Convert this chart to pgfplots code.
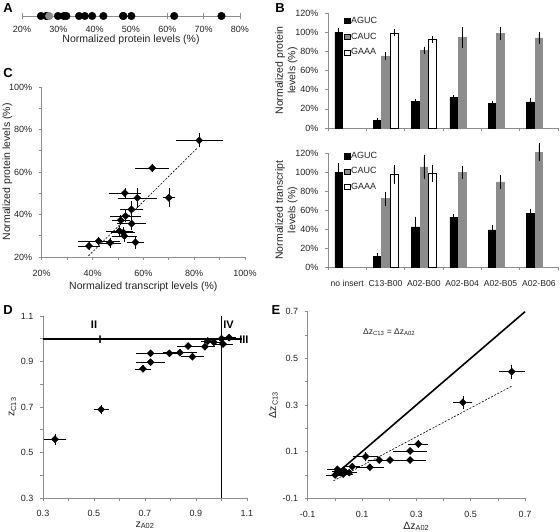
\documentclass[border=0pt]{standalone}
\usepackage{pgfplots}
\pgfplotsset{compat=1.18}
\usepackage{fontspec}
\setmainfont{Liberation Sans}
\definecolor{axgray}{HTML}{8C8C8C}
\definecolor{bargray}{HTML}{8C8C8C}
\definecolor{txt}{HTML}{222222}

\pgfplotsset{
  base/.style={scale only axis, anchor=south west, clip=false,
    axis x line*=bottom, axis y line*=left,
    axis line style={-,draw=axgray,line width=0.6pt},
    tick style={draw=axgray,line width=0.6pt},
    tick align=outside, major tick length=3pt, minor tick length=3pt,
    tick label style={font=\fontsize{9}{10}\selectfont, text=txt},
    xticklabel style={yshift=-7pt}, yticklabel style={xshift=-3pt},
    label style={font=\fontsize{10.5}{12.5}\selectfont, text=txt},
    /pgf/number format/assume math mode=true},
  pts/.style={only marks, mark=square*, mark size=2.5pt, black,
    mark options={rotate=45},
    error bars/x dir=both, error bars/x explicit, error bars/y dir=both, error bars/y explicit,
    error bars/error bar style={black, line width=0.5pt},
    error bars/error mark options={black, mark size=2pt, line width=0.5pt}},
  bars/.style={ybar, bar width=0.2, bar shift=0pt, line width=0.5pt,
    legend image code/.code={\draw[##1,draw=black,line width=0.5pt] (0pt,-2.6pt) rectangle (5.2pt,2.6pt);},
    error bars/y dir=both, error bars/y explicit,
    error bars/error bar style={black, line width=0.5pt},
    error bars/error mark options={black, mark size=2pt, line width=0.5pt}},
}

\begin{document}
\begin{tikzpicture}
\useasboundingbox (0pt,0pt) rectangle (560pt,532pt);

% panel letters
\node[font=\bfseries\fontsize{13}{13}\selectfont] at (8pt,524pt) {A};
\node[font=\bfseries\fontsize{13}{13}\selectfont] at (280pt,524pt) {B};
\node[font=\bfseries\fontsize{13}{13}\selectfont] at (8pt,459pt) {C};
\node[font=\bfseries\fontsize{13}{13}\selectfont] at (8pt,222pt) {D};
\node[font=\bfseries\fontsize{13}{13}\selectfont] at (276pt,222pt) {E};

% ---------------- Panel A
\begin{axis}[scale only axis, anchor=south west, at={(22pt,506pt)},
  width=218pt, height=20pt, xmin=20, xmax=80, ymin=-1, ymax=1, clip=false,
  axis x line=middle, axis y line=none,
  axis line style={-,draw=axgray,line width=0.8pt},
  xtick={20,30,...,80}, xticklabel={\pgfmathprintnumber{\tick}\%},
  tick align=center, major tick length=6pt, tick style={draw=axgray,line width=0.6pt},
  tick label style={font=\fontsize{9}{10}\selectfont, text=txt},
  xticklabel style={yshift=-4pt},
  /pgf/number format/assume math mode=true]
\addplot[only marks, mark=*, mark size=3.8pt, black] coordinates {
 (25.2,0) (26.7,0) (26.9,0) (29.9,0) (31.5,0) (32.2,0) (35.7,0) (37.3,0)
 (39.3,0) (42.4,0) (47.8,0) (47.9,0) (50.1,0) (61.9,0) (74.9,0)};
\addplot[only marks, mark=*, mark size=3.8pt, draw=bargray, fill=bargray] coordinates {(27.5,0)};
\end{axis}
\node[font=\fontsize{10.5}{12}\selectfont, text=txt] at (131pt,492pt) {Normalized protein levels (\%)};

% ---------------- Panel B top
\begin{axis}[base, at={(328pt,404pt)}, width=230pt, height=115pt,
  xmin=0, xmax=6, ymin=0, ymax=120,
  ytick={0,20,...,120}, yticklabel={\pgfmathprintnumber{\tick}\%},
  xtick={0,...,6}, xticklabels={,,,,,,},
  ylabel={Normalized protein\\levels (\%)}, ylabel style={align=center},
  ylabel shift=-9pt,
  legend style={draw=none, fill=none, at={(axis cs:0.42,117)}, anchor=north west,
    font=\fontsize{9}{10}\selectfont, row sep=6pt, inner sep=0pt,
    nodes={inner sep=1pt, text=txt}}, legend cell align=left]
\addplot[bars, fill=black, draw=black] coordinates {
 (0.28,100) +- (0,2) (1.28,7.8) +- (0,0.5) (2.28,27.6) +- (0,1) (3.28,31.6) +- (0,0.8)
 (4.28,25.3) +- (0,0.5) (5.28,27.2) +- (0,2)};
\addplot[bars, fill=bargray, draw=bargray] coordinates {
 (1.5,75.2) +- (0,2.5) (2.5,81.2) +- (0,1.5) (3.5,94.5) +- (0,8.5)
 (4.5,98.8) +- (0,5) (5.5,94) +- (0,4)};
\addplot[bars, fill=white, draw=black] coordinates {
 (1.72,99.3) +- (0,1.5) (2.72,92.5) +- (0,1.5)};
\legend{AGUC,CAUC,GAAA}
\end{axis}

% ---------------- Panel B bottom
\begin{axis}[base, at={(328pt,265pt)}, width=230pt, height=114pt,
  xmin=0, xmax=6, ymin=0, ymax=120,
  ytick={0,20,...,120}, yticklabel={\pgfmathprintnumber{\tick}\%},
  xtick={0,...,6}, xticklabels={,,,,,,},
  extra x ticks={0.5,1.5,...,5.5},
  extra x tick labels={no insert,C13-B00,A02-B00,A02-B04,A02-B05,A02-B06},
  extra x tick style={major tick length=0pt, tick label style={yshift=-3pt, font=\fontsize{8.6}{10}\selectfont}},
  ylabel={Normalized transcript\\levels (\%)}, ylabel style={align=center},
  ylabel shift=-9pt,
  legend style={draw=none, fill=none, at={(axis cs:0.42,122)}, anchor=north west,
    font=\fontsize{9}{10}\selectfont, row sep=5.5pt, inner sep=0pt,
    nodes={inner sep=1pt, text=txt}}, legend cell align=left]
\addplot[bars, fill=black, draw=black] coordinates {
 (0.28,99.6) +- (0,7.8) (1.28,11.3) +- (0,1) (2.28,42.1) +- (0,8.6) (3.28,52.4) +- (0,1)
 (4.28,39) +- (0,3) (5.28,56.8) +- (0,2.5)};
\addplot[bars, fill=bargray, draw=bargray] coordinates {
 (1.5,72) +- (0,5.2) (2.5,105.3) +- (0,10.5) (3.5,99.6) +- (0,4.5)
 (4.5,89.5) +- (0,5.2) (5.5,120.7) +- (0,7.5)};
\addplot[bars, fill=white, draw=black] coordinates {
 (1.72,97.2) +- (0,7.8) (2.72,98.5) +- (0,7)};
\legend{AGUC,CAUC,GAAA}
\end{axis}

% ---------------- Panel C
\begin{axis}[base, at={(41.7pt,275pt)}, width=203.3pt, height=170pt,
  xmin=20, xmax=100, ymin=20, ymax=100,
  xtick={20,40,...,100}, ytick={20,40,...,100}, minor tick num=1,
  xticklabel={\pgfmathprintnumber{\tick}\%}, yticklabel={\pgfmathprintnumber{\tick}\%},
  xlabel={Normalized transcript levels (\%)}, ylabel={Normalized protein levels (\%)},
  ylabel shift=-10pt, xlabel shift=-2pt]
\addplot[black, line width=0.6pt, dash pattern=on 2pt off 1.5pt] coordinates {(38.4,20.5) (81,71)};
\addplot[pts] coordinates {
 (82.0,74.9) +- (8.5,2.4)
 (63.5,61.9) +- (5.9,1.0)
 (52.7,50.1) +- (5.4,1.2)
 (57.6,47.8) +- (6.9,3.7)
 (70.0,47.9) +- (1.5,3.5)
 (55.3,42.4) +- (3.8,3.0)
 (53.0,39.3) +- (5.2,2.0)
 (51.1,37.3) +- (2.8,1.5)
 (55.4,35.7) +- (4.9,2.2)
 (50.6,32.2) +- (4.6,1.5)
 (52.1,31.5) +- (4.0,1.5)
 (52.5,29.9) +- (4.2,2.0)
 (42.4,27.5) +- (7.5,1.0)
 (46.9,26.7) +- (3.5,1.5)
 (56.9,26.9) +- (2.4,2.0)
 (38.6,25.2) +- (3.6,1.0)};
\end{axis}

% ---------------- Panel D
\begin{axis}[base, at={(43pt,34pt)}, width=204pt, height=182pt,
  xmin=0.3, xmax=1.1, ymin=0.3, ymax=1.1,
  xtick={0.3,0.5,...,1.1}, ytick={0.3,0.5,...,1.1}, minor tick num=1,
  xticklabels={0.3,0.5,0.7,0.9,1.1}, yticklabels={0.3,0.5,0.7,0.9,1.1},
  xticklabel style={yshift=1pt},
  xlabel={z\textsubscript{A02}}, ylabel={z\textsubscript{C13}},
  xlabel shift=-2pt, ylabel style={yshift=-2pt}]
\addplot[black, line width=1.6pt] coordinates {(0.3,1) (1.08,1)};
\addplot[black, line width=1.6pt] coordinates {(1,0.3) (1,1.1)};
\addplot[pts] coordinates {
 (0.347,0.558) +- (0.037,0.015)
 (0.528,0.689) +- (0.022,0.012)
 (0.692,0.868) +- (0.024,0.006)
 (0.722,0.897) +- (0.05,0.005)
 (0.722,0.936) +- (0.05,0.005)
 (0.796,0.936) +- (0.03,0.005)
 (0.837,0.939) +- (0.06,0.005)
 (0.886,0.921) +- (0.036,0.005)
 (0.869,0.968) +- (0.036,0.005)
 (0.935,0.965) +- (0.03,0.005)
 (0.946,0.990) +- (0.02,0.005)
 (0.970,0.985) +- (0.03,0.005)
 (1.000,1.000) +- (0.02,0.005)
 (1.030,1.005) +- (0.02,0.005)
 (1.006,0.977) +- (0.03,0.005)};
\node[font=\bfseries\fontsize{11}{11}\selectfont] at (axis cs:0.5,1.06) {II};
\node[font=\bfseries\fontsize{11}{11}\selectfont] at (axis cs:1.028,1.06) {IV};
\node[font=\bfseries\fontsize{11}{11}\selectfont] at (axis cs:0.524,0.997) {I};
\node[font=\bfseries\fontsize{11}{11}\selectfont] at (axis cs:1.088,0.995) {III};
\end{axis}

% ---------------- Panel E
\begin{axis}[base, at={(307.7pt,33.7pt)}, width=217.3pt, height=186.6pt,
  xmin=-0.1, xmax=0.7, ymin=-0.1, ymax=0.7,
  xtick={-0.1,0.1,...,0.7}, ytick={-0.1,0.1,...,0.7}, minor tick num=1,
  xticklabels={-0.1,0.1,0.3,0.5,0.7}, yticklabels={-0.1,0.1,0.3,0.5,0.7},
  xticklabel style={yshift=1pt},
  xlabel={Δz\textsubscript{A02}}, ylabel={Δz\textsubscript{C13}},
  xlabel shift=-2pt, ylabel style={yshift=-2pt}]
\addplot[black, line width=1.6pt] coordinates {(0.025,0.025) (0.7,0.7)};
\addplot[black, line width=0.6pt, dash pattern=on 2pt off 1.5pt] coordinates {(-0.005,-0.025) (0.65,0.38)};
\addplot[pts] coordinates {
 (0.651,0.443) +- (0.04,0.022)
 (0.471,0.311) +- (0.028,0.02)
 (0.307,0.133) +- (0.03,0.01)
 (0.277,0.103) +- (0.055,0.005)
 (0.277,0.064) +- (0.05,0.005)
 (0.203,0.064) +- (0.025,0.005)
 (0.163,0.064) +- (0.035,0.005)
 (0.113,0.079) +- (0.04,0.01)
 (0.129,0.033) +- (0.043,0.005)
 (0.064,0.036) +- (0.02,0.005)
 (0.053,0.010) +- (0.02,0.005)
 (0.031,0.004) +- (0.03,0.005)
 (0.009,0.024) +- (0.03,0.005)
 (0.001,0.000) +- (0.025,0.005)
 (0.017,0.014) +- (0.02,0.005)
 (0.031,0.021) +- (0.02,0.005)};
\node[font=\fontsize{8.5}{10}\selectfont, text=txt] at (axis cs:0.2,0.613) {Δz\textsubscript{C13} = Δz\textsubscript{A02}};
\end{axis}
\end{tikzpicture}
\end{document}
